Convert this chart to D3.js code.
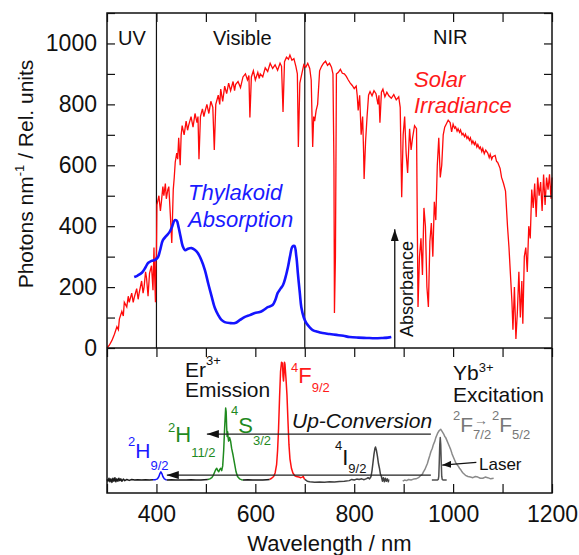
<!DOCTYPE html>
<html>
<head>
<meta charset="utf-8">
<script src="https://cdn.jsdelivr.net/npm/d3@7"></script>
<style>
  body { margin: 0; background: #fff; }
  svg { font-family: "Liberation Sans", Arial, sans-serif; }
</style>
</head>
<body>
<div id="chart"></div>
<script>
// solar irradiance (photons nm-1)
const solarIrradiance = [
  [300,0],[305,10],[310,25],[315,45],[320,70],[323,60],[325,95],[330,120],[333,105],[335,150],[340,135],[343,170],[345,150],
  [350,180],[353,150],[355,165],[360,195],[363,160],[365,180],[370,220],[373,180],[375,200],[378,250],[380,230],[383,170],
  [386,245],[390,270],[393,190],[395,330],[396,260],[398,150],[399,300],[400,290],[401,470],[405,500],[408,450],[410,480],
  [413,530],[415,500],[418,540],[420,490],[423,520],[425,530],[428,440],[431,345],[434,520],[436,560],[438,610],[441,640],
  [443,620],[445,690],[448,600],[450,700],[452,730],[456,700],[460,745],[463,715],[465,730],[470,760],[474,725],[478,770],
  [482,740],[484,760],[486,620],[489,760],[493,785],[496,760],[498,775],[502,800],[506,770],[510,810],[514,790],[517,650],
  [520,800],[525,830],[528,800],[530,850],[534,810],[538,860],[542,835],[546,870],[550,845],[555,875],[558,845],[560,865],
  [565,875],[570,855],[575,890],[580,900],[584,880],[587,895],[589,757],[592,890],[596,910],[600,880],[605,905],[608,885],
  [610,900],[615,890],[620,920],[625,908],[630,935],[635,918],[640,930],[645,912],[650,935],[653,925],[656,775],[659,940],
  [663,955],[667,948],[670,962],[674,945],[678,950],[682,925],[685,900],[687,660],[690,870],[694,900],[698,930],[702,922],
  [706,935],[710,918],[713,880],[716,660],[718,760],[720,745],[723,780],[726,800],[730,910],[734,925],[738,935],[742,942],
  [746,928],[750,935],[754,922],[757,900],[759,600],[760,115],[762,300],[764,900],[768,905],[772,915],[776,902],[780,900],
  [784,892],[788,880],[792,870],[796,862],[800,852],[804,860],[806,830],[808,780],[811,830],[814,700],[817,760],[819,640],
  [820,555],[823,680],[826,760],[829,830],[832,842],[836,828],[840,845],[844,835],[848,800],[850,830],[852,740],[855,840],
  [858,850],[862,825],[866,840],[870,828],[875,820],[880,832],[885,815],[890,825],[893,790],[896,495],[899,700],[902,760],
  [905,640],[908,575],[912,720],[915,650],[918,690],[922,730],[926,720],[929,135],[932,300],[935,360],[938,240],[941,460],
  [944,400],[947,200],[950,135],[953,350],[956,410],[959,300],[962,480],[965,420],[968,600],[971,690],[974,560],[977,600],
  [980,700],[983,725],[987,738],[990,748],[994,740],[997,710],[1000,735],[1003,722],[1005,726],[1008,712],[1010,720],
  [1013,708],[1015,716],[1018,700],[1020,705],[1023,694],[1025,702],[1028,688],[1030,694],[1033,682],[1035,690],
  [1038,672],[1040,680],[1043,668],[1045,676],[1048,660],[1050,668],[1053,655],[1055,660],[1058,645],[1060,655],
  [1063,638],[1066,650],[1070,640],[1073,625],[1075,636],[1078,620],[1080,628],[1085,632],[1088,612],[1090,610],
  [1095,590],[1098,560],[1102,540],[1106,515],[1110,400],[1113,330],[1116,240],[1119,150],[1121,60],[1124,200],[1127,30],
  [1130,120],[1133,250],[1136,100],[1139,220],[1141,80],[1144,300],[1147,330],[1150,250],[1153,400],[1156,360],[1159,520],
  [1162,460],[1165,540],[1168,430],[1171,560],[1174,500],[1177,545],[1180,450],[1183,570],[1186,470],[1189,560],
  [1192,520],[1195,570],[1198,490],[1200,560]
];

// thylakoid absorption (relative units)
const thylakoidAbsorption = [
  [355,233],[362,238],[371,248],[378,265],[383,279],[390,286],[397,289],[403,298],[408,325],[413,354],[420,368],[427,382],
  [432,400],[437,420],[441,418],[445,395],[449,364],[453,335],[458,321],[464,326],[471,328],[478,322],[484,311],[491,288],
  [498,256],[505,210],[512,167],[518,132],[525,108],[531,93],[538,85],[548,82],[559,82],[569,92],[579,102],[589,108],
  [599,115],[609,118],[617,125],[625,134],[635,141],[641,160],[645,180],[651,195],[656,207],[661,232],[666,266],[670,300],
  [675,333],[679,335],[683,300],[686,246],[690,180],[693,134],[698,100],[703,82],[710,68],[716,59],[726,53],[736,49],
  [750,46],[764,43],[778,40],[791,36],[808,34],[825,33],[842,32],[858,33],[868,34],[875,36]
];

// lower panel: Er3+ emission pieces, Yb3+ excitation and laser line (relative units)
const emissionUV = [
  [300,0.5],[302,-1],[304,1.5],[306,-1.5],[308,1],[310,-2],[312,1.5],[314,-1],[316,2],[318,-1.5],[320,1],[322,-1],
  [324,1.5],[326,-0.5],[328,1],[330,-1],[333,0.8],[336,-0.5],[340,0.5],[345,-0.3],[350,0.4],[356,0],[362,0.3],[370,0],
  [378,0.2],[386,0],[393,0.2]
];
const emission2H92 = [[393,0.2],[398,0.3],[402,1],[405,3],[407,5.5],[409,7],[411,5.5],[413,3],[416,1],[419,0.3],[421,0]];
const emissionGap1 = [[421,0],[430,0.2],[440,0],[450,0.1],[460,0],[470,0.2],[480,0],[490,0.1],[497,0.3],[504,0.5]];
const emissionGreen = [
  [504,0.5],[508,1],[512,2],[515,4],[518,7],[520,9],[522,10],[524,8],[526,7],[528,9],[530,10],[532,8],[534,12],[536,25],
  [538,45],[540,61],[541,58],[542,45],[543,37],[544,41],[545,36],[546,33],[548,36],[550,33],[552,27],[555,21],[558,14],
  [561,7],[564,3],[568,1],[572,0.3],[575,0]
];
const emissionGap2 = [[575,0],[585,0.2],[595,0],[605,0.1],[615,0],[623,0.3],[629,0.5]];
const emissionRed = [
  [629,0.5],[633,1.5],[637,3],[640,6],[643,13],[645,25],[647,44],[649,70],[651,92],[653,100],[655,99],[656,88],[657,84],
  [658,90],[659,100],[660,98],[662,86],[664,72],[666,50],[668,30],[670,18],[673,10],[676,6],[680,3.5],[683,3],[688,2.5],
  [692,2],[695,2.5],[697,3],[699,1],[700,0.5]
];
const emissionNIR = [
  [700,0.5],[705,-1],[710,-1.5],[720,-1.8],[730,-1.6],[740,-1.8],[750,-1.5],[760,-1.6],[770,-1.2],[780,-1],[790,-0.5],
  [795,0.5],[800,0],[805,0.8],[810,0.5],[815,1],[820,0.3],[825,1.2],[828,2],[831,1],[834,3],[836,8],[838,15],[840,22],
  [842,27],[843,28],[845,25],[847,20],[849,14],[851,10],[853,5],[855,3],[857,-1],[859,2],[861,-1.5],[863,1.5],[865,-1],
  [867,1],[869,-1.5],[870,0.5]
];
const ybExcitation = [
  [898,-1],[902,0],[906,-0.5],[910,0.5],[915,0],[920,0.8],[925,1],[930,2],[935,4],[938,5],[940,7],[943,9],[945,11],
  [948,14],[950,17],[953,21],[955,24],[958,27],[960,30],[963,33],[965,36],[967,38],[969,40],[972,42],[975,43],[978,41],
  [981,39],[983,37],[985,36],[988,33],[990,31],[993,28],[995,26],[998,22],[1000,20],[1003,17],[1005,15],[1008,13],
  [1010,12],[1013,10],[1015,9],[1018,7],[1020,6],[1025,4],[1030,3],[1035,2.5],[1040,2],[1045,3],[1050,2.5],[1055,1.5],
  [1060,1.5],[1065,2.5],[1070,2],[1076,1],[1082,1.5]
];
const laserLine = [[957,0],[968,0],[970,0.5],[971,3],[972,15],[973,30],[974,36],[975,30],[976,15],[977,3],[978,0.5],[980,0],[987,0]];

const emissionSeries = [emissionUV, emission2H92, emissionGap1, emissionGreen, emissionGap2, emissionRed, emissionNIR, ybExcitation, laserLine];
const emissionColors = ['#1a1a1a', '#1010ff', '#1a1a1a', '#1f8a1f', '#1a1a1a', '#ff1010', '#404040', '#8a8a8a', '#505050'];

const xTickLabels = [400, 600, 800, 1000, 1200];
const xMinorTicks = d3.range(300, 1201, 100);
const yTickLabels = [0, 200, 400, 600, 800, 1000];
const yMinorTicks = d3.range(0, 1101, 100);
const regionBounds = [400, 700];

// svg and scales
let width = 579, height = 555;
let margin = { top: 13, bottom: 62, left: 107, right: 27 };
let split = 348; // border between the two panels

let svg = d3.select('#chart').append('svg')
  .attr('width', width)
  .attr('height', height);

let defs = svg.append('defs');
function arrowMarker(id, len, half) {
  defs.append('marker')
    .attr('id', id)
    .attr('markerUnits', 'userSpaceOnUse')
    .attr('viewBox', `0 ${-half} ${len} ${half * 2}`)
    .attr('refX', len).attr('refY', 0)
    .attr('markerWidth', len).attr('markerHeight', half * 2)
    .attr('orient', 'auto')
    .append('path')
    .attr('d', `M0,${-half}L${len},0L0,${half}Z`)
    .attr('fill', '#111');
}
arrowMarker('headBig', 12, 4);
arrowMarker('headSmall', 9, 3.5);

let x = d3.scaleLinear().domain([300, 1200]).range([margin.left, width - margin.right]);
let yTop = d3.scaleLinear().domain([0, 1100]).range([split, margin.top]);
let yBot = d3.scaleLinear().domain([-11, 112]).range([height - margin.bottom, split]);

// region dividers UV / Visible / NIR
svg.selectAll('.region')
  .data(regionBounds)
  .enter().append('line')
  .attr('x1', d => x(d)).attr('x2', d => x(d))
  .attr('y1', margin.top).attr('y2', split)
  .attr('stroke', '#111').attr('stroke-width', 1.2);

// top panel curves
let lineTop = d3.line().x(d => x(d[0])).y(d => yTop(d[1]));

svg.append('path')
  .datum(solarIrradiance)
  .attr('d', lineTop)
  .attr('fill', 'none')
  .attr('stroke', '#ff0a0a')
  .attr('stroke-width', 1.3);

svg.append('path')
  .datum(thylakoidAbsorption)
  .attr('d', lineTop.curve(d3.curveCatmullRom))
  .attr('fill', 'none')
  .attr('stroke', '#1414ff')
  .attr('stroke-width', 2.6);

// absorbance arrow
svg.append('line')
  .attr('x1', x(882)).attr('x2', x(882))
  .attr('y1', yTop(0)).attr('y2', yTop(390))
  .attr('stroke', '#111').attr('stroke-width', 1.3)
  .attr('marker-end', 'url(#headBig)');

svg.append('text')
  .attr('transform', `translate(${x(882) + 18},${yTop(36)}) rotate(-90)`)
  .style('font-size', '18px')
  .attr('fill', '#111')
  .text('Absorbance');

// bottom panel spectra
let lineBot = d3.line().x(d => x(d[0])).y(d => yBot(d[1]));
emissionSeries.forEach((s, i) => {
  svg.append('path')
    .datum(s)
    .attr('d', lineBot)
    .attr('fill', 'none')
    .attr('stroke', emissionColors[i])
    .attr('stroke-width', 1.5)
    .attr('stroke-linejoin', 'round');
});

// up-conversion arrows
[[955, 502, 39], [955, 421, 4.2]].forEach(a => {
  svg.append('line')
    .attr('x1', x(a[0])).attr('x2', x(a[1]))
    .attr('y1', yBot(a[2])).attr('y2', yBot(a[2]))
    .attr('stroke', '#222').attr('stroke-width', 1.3)
    .attr('marker-end', 'url(#headBig)');
});

// laser pointer
svg.append('line')
  .attr('x1', x(1047)).attr('y1', yBot(15))
  .attr('x2', x(978)).attr('y2', yBot(12.7))
  .attr('stroke', '#111').attr('stroke-width', 1.2)
  .attr('marker-end', 'url(#headSmall)');

// axes: ticks all point inwards
function noDomain(g) { g.select('.domain').remove(); }
let plain = d3.format('d');

svg.append('g')
  .attr('transform', `translate(${margin.left},0)`)
  .call(d3.axisLeft(yTop).tickValues(yMinorTicks).tickFormat('').tickSize(-8))
  .call(noDomain);
svg.append('g')
  .attr('transform', `translate(${margin.left},0)`)
  .call(d3.axisLeft(yTop).tickValues(yTickLabels).tickFormat(plain).tickSize(0).tickPadding(10))
  .call(noDomain)
  .selectAll('text').style('font-size', '23px').attr('fill', '#111');
svg.append('g')
  .attr('transform', `translate(${width - margin.right},0)`)
  .call(d3.axisRight(yTop).tickValues(yMinorTicks).tickFormat('').tickSize(-8))
  .call(noDomain);

svg.append('g')
  .attr('transform', `translate(0,${margin.top})`)
  .call(d3.axisTop(x).tickValues(xMinorTicks).tickFormat('').tickSize(-9))
  .call(noDomain);
svg.append('g')
  .attr('transform', `translate(0,${split})`)
  .call(d3.axisTop(x).tickValues(xMinorTicks).tickFormat('').tickSize(-9))
  .call(noDomain);
svg.append('g')
  .attr('transform', `translate(0,${height - margin.bottom})`)
  .call(d3.axisBottom(x).tickValues(xMinorTicks).tickFormat('').tickSize(-9))
  .call(noDomain);
svg.append('g')
  .attr('transform', `translate(0,${height - margin.bottom})`)
  .call(d3.axisBottom(x).tickValues(xTickLabels).tickFormat(plain).tickSize(0).tickPadding(13))
  .call(noDomain)
  .selectAll('text').style('font-size', '23px').attr('fill', '#111');

svg.selectAll('.tick line').attr('stroke', '#111').attr('stroke-width', 1.2);

// frame
svg.append('rect')
  .attr('x', margin.left).attr('y', margin.top)
  .attr('width', width - margin.left - margin.right)
  .attr('height', height - margin.top - margin.bottom)
  .attr('fill', 'none').attr('stroke', '#111').attr('stroke-width', 1.5);
svg.append('line')
  .attr('x1', margin.left).attr('x2', width - margin.right)
  .attr('y1', split).attr('y2', split)
  .attr('stroke', '#111').attr('stroke-width', 1.5);

// axis titles
let yTitle = svg.append('text')
  .attr('transform', `translate(33,174) rotate(-90)`)
  .attr('text-anchor', 'middle')
  .style('font-size', '21px').attr('fill', '#111');
yTitle.append('tspan').text('Photons nm');
yTitle.append('tspan').attr('dy', -9).style('font-size', '13px').text('-1');
yTitle.append('tspan').attr('dy', 9).text(' / Rel. units');

svg.append('text')
  .attr('x', x(750)).attr('y', 551)
  .attr('text-anchor', 'middle')
  .style('font-size', '22px').attr('fill', '#111')
  .text('Wavelength / nm');

// plain labels
function label(px, py, str, size, color, italic) {
  svg.append('text')
    .attr('x', px).attr('y', py)
    .style('font-size', size + 'px')
    .style('font-style', italic ? 'italic' : 'normal')
    .attr('fill', color)
    .text(str);
}
label(118, 45, 'UV', 20, '#111');
label(213, 45, 'Visible', 20, '#111');
label(433, 44, 'NIR', 20, '#111');
label(414, 87, 'Solar', 22, '#ff1a1a', true);
label(414, 113, 'Irradiance', 22, '#ff1a1a', true);
label(188, 200, 'Thylakoid', 22, '#1a1aff', true);
label(188, 227, 'Absorption', 22, '#1a1aff', true);
label(185, 397, 'Emission', 21, '#111');
label(453, 402, 'Excitation', 21, '#111');
label(292, 428, 'Up-Conversion', 21, '#111', true);
label(479, 470, 'Laser', 17, '#111');
label(474, 425, '\u2192', 14, '#777');

// labels with super/subscripts: [text, size, shift from baseline]
function termLabel(px, py, parts, color) {
  let t = svg.append('text').attr('x', px).attr('y', py).attr('fill', color);
  let shift = 0;
  parts.forEach(p => {
    t.append('tspan')
      .attr('dy', p[2] - shift)
      .style('font-size', p[1] + 'px')
      .text(p[0]);
    shift = p[2];
  });
}
termLabel(185, 377, [['Er', 21, 0], ['3+', 13, -12]], '#111');
termLabel(453, 380, [['Yb', 21, 0], ['3+', 13, -8]], '#111');
termLabel(291, 383, [['4', 13, -11], ['F', 22, 0], ['9/2', 13, 9]], '#ff1a1a');
termLabel(231, 433, [['4', 13, -18], ['S', 22, 0], ['3/2', 13, 12]], '#1f8a1f');
termLabel(168, 442, [['2', 13, -10], ['H', 22, 0], ['11/2', 13, 15]], '#1f8a1f');
termLabel(128, 458, [['2', 13, -12], ['H', 21, 0], ['9/2', 13, 12]], '#1a1aff');
termLabel(335, 465, [['4', 13, -15], ['I', 22, 0], ['9/2', 13, 8]], '#111');
termLabel(453, 432, [['2', 13, -12], ['F', 21, 0], ['7/2', 13, 7]], '#777');
termLabel(492, 432, [['2', 13, -12], ['F', 21, 0], ['5/2', 13, 7]], '#777');
</script>
</body>
</html>
